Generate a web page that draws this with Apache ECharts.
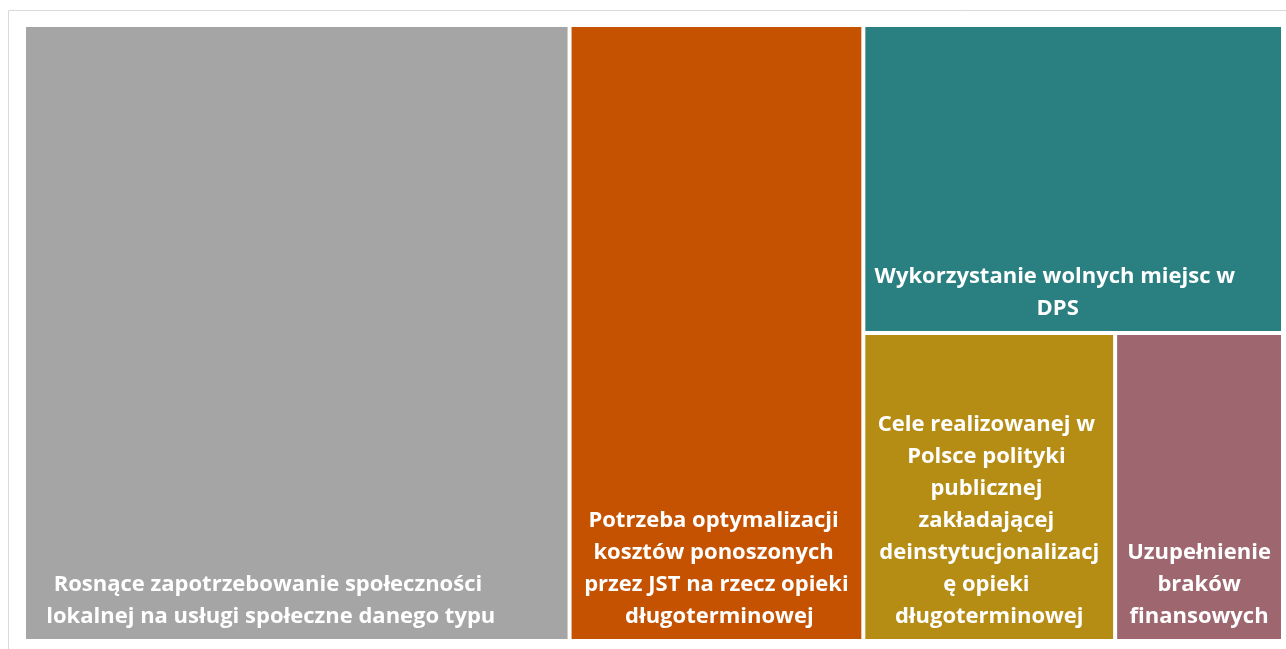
<!DOCTYPE html>
<html>
<head>
<meta charset="utf-8">
<script src="https://cdn.jsdelivr.net/npm/echarts@6/dist/echarts.min.js"></script>
<style>
  html, body { margin: 0; padding: 0; background: #fff; }
  #chart { width: 1286px; height: 649px; }
</style>
</head>
<body>
<div id="chart"></div>
<script>
// dane
var names = [
    'Rosnące zapotrzebowanie społeczności lokalnej na usługi społeczne danego typu',
    'Potrzeba optymalizacji kosztów ponoszonych przez JST na rzecz opieki długoterminowej',
    'Wykorzystanie wolnych miejsc w DPS',
    'Cele realizowanej w Polsce polityki publicznej zakładającej deinstytucjonalizację opieki długoterminowej',
    'Uzupełnienie braków finansowych'
];
var values = [13, 7, 5, 3, 2];
var colors = ['#a5a5a5', '#c45200', '#2a8080', '#b58c14', '#9e6770'];
// odstepy etykiet (gora, prawo, dol, lewo) - jak w oryginale
var labelPads = [[0, 52, 6, 0], [0, 10, 6, 10], [0, 38, 6, 7], [0, 12, 6, 12], [0, 2, 6, 2]];

function leaf(i) {
    return {
        name: names[i],
        value: values[i],
        itemStyle: { color: colors[i] },
        label: { padding: labelPads[i] }
    };
}
function group(name, children) {
    return { name: name, children: children, itemStyle: { borderWidth: 0 } };
}

var treeData = [
    leaf(0),
    leaf(1),
    group('g1', [leaf(2), group('g2', [leaf(3), leaf(4)])])
];

var myChart = echarts.init(document.getElementById('chart'));
var option = {
    animation: false,
    graphic: [{
        type: 'rect',
        shape: { x: 8.5, y: 10.5, width: 1300, height: 700 },
        style: { fill: 'none', stroke: '#d9d9d9', lineWidth: 1 },
        silent: true
    }],
    series: [{
        type: 'treemap',
        left: 24, top: 25, right: 3, bottom: 8,
        sort: false,
        squareRatio: 1,
        roam: false,
        nodeClick: false,
        breadcrumb: { show: false },
        itemStyle: { borderWidth: 2, borderColor: '#fff', gapWidth: 0 },
        levels: [
            { itemStyle: { borderWidth: 0, gapWidth: 0 } }
        ],
        label: {
            show: true,
            position: 'insideBottom',
            color: '#fff',
            fontFamily: 'Open Sans',
            fontWeight: 'bold',
            fontSize: 22,
            lineHeight: 32,
            overflow: 'break'
        },
        data: treeData
    }]
};
myChart.setOption(option);
</script>
</body>
</html>
